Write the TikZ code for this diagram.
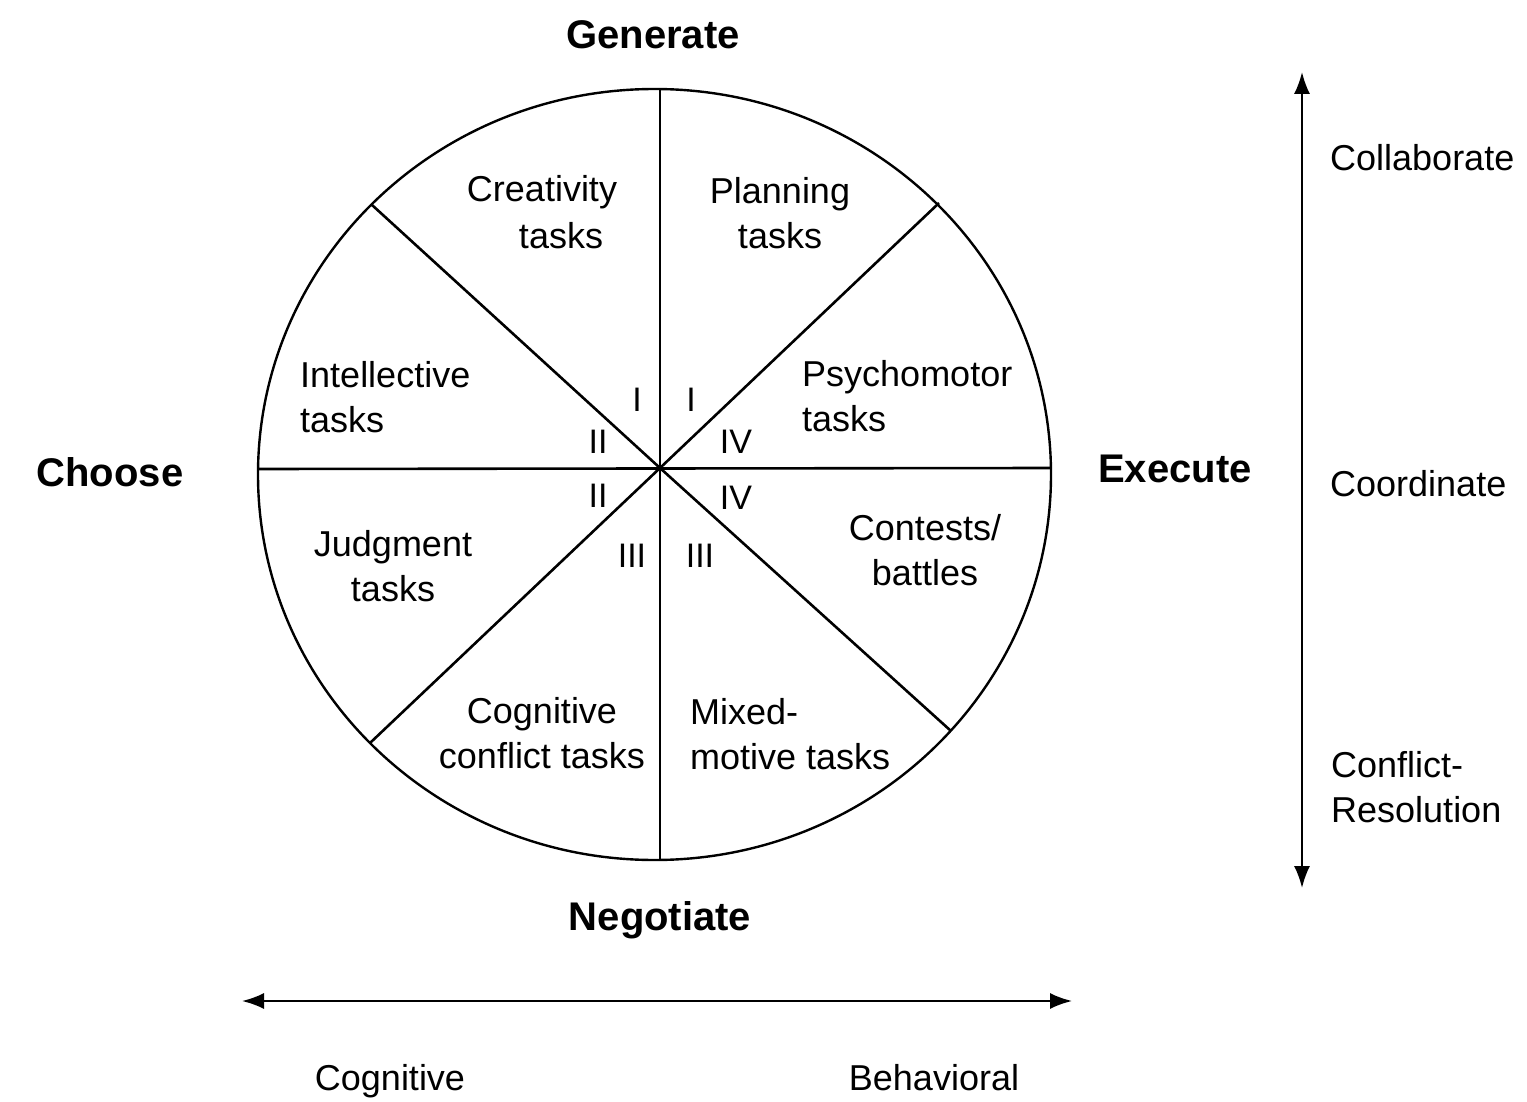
\documentclass[tikz,border=0pt]{standalone}
\usepackage{fontspec}
\setmainfont{Liberation Sans}
\usetikzlibrary{arrows.meta}
\begin{document}
\begin{tikzpicture}[x=1pt,y=-1pt,
  lbl/.style={inner sep=0pt,font=\fontsize{36}{45}\selectfont},
  big/.style={inner sep=0pt,font=\fontsize{40}{48}\selectfont\bfseries},
  num/.style={inner sep=0pt,font=\fontsize{34}{40}\selectfont},
  spoke/.style={line width=2.6pt},
  rim/.style={line width=2.4pt},
  axis/.style={line width=2pt,{Latex[length=22pt,width=16pt]}-{Latex[length=22pt,width=16pt]}}]
\useasboundingbox (0,0) rectangle (1527,1102);
% circle and spokes
\draw[rim] (654.5,474.5) ellipse [x radius=396.5pt, y radius=385.5pt];
\coordinate (O) at (660,468);
\coordinate (top) at (660,89);
\coordinate (bot) at (660,860);
\coordinate (lft) at (258,469);
\coordinate (rgt) at (1051,468);
\coordinate (ul) at (372,205);
\coordinate (ur) at (939,203);
\coordinate (ll) at (370,743);
\coordinate (lr) at (951,731);
\draw[spoke] (top) -- (bot);
\draw[spoke] (lft) -- (rgt);
\foreach \p in {ul,ur,ll,lr} \draw[spoke] (O) -- (\p);
% sector labels
\node[lbl] (crea1) at (542,192) {Creativity};
\node[lbl] (crea2) at (561,236) {tasks};
\node[lbl,align=center] (plan) at (780,213) {Planning\\tasks};
\node[lbl,align=left,anchor=west] (intel) at (300,397) {Intellective\\tasks};
\node[lbl,align=left,anchor=west] (psych) at (802,396) {Psychomotor\\tasks};
\node[lbl,align=center] (judg) at (393,566) {Judgment\\tasks};
\node[lbl,align=center] (cont) at (925,550) {Contests/\\battles};
\node[lbl,align=center] (cogc) at (542,733) {Cognitive\\conflict tasks};
\node[lbl,align=left,anchor=west] (mixm) at (690,734) {Mixed-\\motive tasks};
% numerals
\node[num] (n1) at (637,400) {I};
\node[num] (n2) at (691,400) {I};
\node[num] (n3) at (598,442) {II};
\node[num] (n4) at (736,442) {IV};
\node[num] (n5) at (598,496) {II};
\node[num] (n6) at (736,498) {IV};
\node[num] (n7) at (632,556) {III};
\node[num] (n8) at (700,556) {III};
% compass labels
\node[big] (gen) at (653,35) {Generate};
\node[big] (cho) at (110,472) {Choose};
\node[big] (exe) at (1175,469) {Execute};
\node[big] (neg) at (660,920) {Negotiate};
% right axis
\coordinate (vt) at (1302,72);
\coordinate (vb) at (1302,888);
\draw[axis] (vt) -- (vb);
\node[lbl,anchor=west] (colab) at (1330,158) {Collaborate};
\node[lbl,anchor=west] (coord) at (1330,484) {Coordinate};
\node[lbl,align=left,anchor=west] (confl) at (1331,787) {Conflict-\\Resolution};
% bottom axis
\coordinate (hl) at (242,1001);
\coordinate (hr) at (1072,1001);
\draw[axis] (hl) -- (hr);
\node[lbl,anchor=base] (cogn) at (390,1090) {Cognitive};
\node[lbl,anchor=base] (behav) at (934,1090) {Behavioral};
\end{tikzpicture}
\end{document}
